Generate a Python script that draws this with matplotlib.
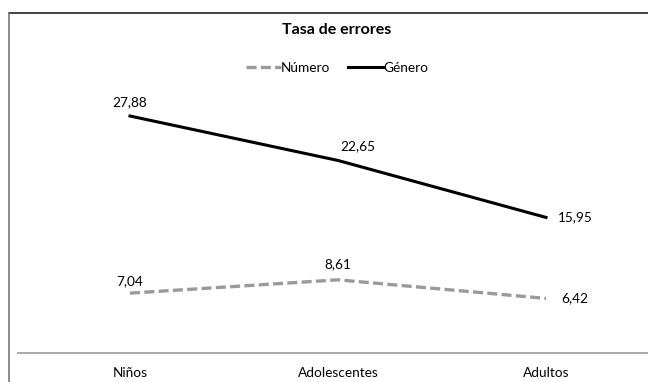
import matplotlib
matplotlib.use("Agg")
import matplotlib.pyplot as plt
from matplotlib.lines import Line2D

plt.rcParams['font.family'] = ['Lato', 'DejaVu Sans']

# data
categorias = ["Niños", "Adolescentes", "Adultos"]
numero = [7.04, 8.61, 6.42]
genero = [27.88, 22.65, 15.95]

# label offsets in points (dx, dy)
off_numero = [(0, 9), (0, 11), (21, 0)]
off_genero = [(0, 10), (14, 10), (21, 0)]

W, H = 648, 382
fig = plt.figure(figsize=(W / 100, H / 100), dpi=100)

# outer chart frame
fig.add_artist(Line2D([9 / W, 1.0], [1 - 12.5 / H, 1 - 12.5 / H], color="#222222", lw=1.2))
fig.add_artist(Line2D([9 / W, 9 / W], [1 - 12.5 / H, 0], color="#777777", lw=1.2))

# axes placed in pixels
left, right, top, bottom = 18, 650, 98, 353
ax = fig.add_axes([left / W, 1 - bottom / H, (right - left) / W, (bottom - top) / H])
x = list(range(len(categorias)))

ax.plot(x, numero, color="#9a9a9a", lw=2.4, dashes=(3.0, 1.3), label="Número")
ax.plot(x, genero, color="black", lw=2.2, label="Género")

for i in x:
    ax.annotate(f"{numero[i]:.2f}".replace(".", ","), (i, numero[i]), xytext=off_numero[i],
                textcoords="offset points", ha="center", va="center", fontsize=9.8)
    ax.annotate(f"{genero[i]:.2f}".replace(".", ","), (i, genero[i]), xytext=off_genero[i],
                textcoords="offset points", ha="center", va="center", fontsize=9.8)

ax.set_xlim(-(130 - left) / 208, (right - 130) / 208)
ax.set_ylim(0, 30)
ax.set_xticks(x)
ax.set_xticklabels(categorias, fontsize=9.8)
ax.tick_params(axis="x", length=0, pad=10)
ax.set_yticks([])
for s in ["top", "right", "left"]:
    ax.spines[s].set_visible(False)
ax.spines["bottom"].set_color("#aaaaaa")
ax.spines["bottom"].set_linewidth(1.4)

fig.text(337 / W, 1 - 30 / H, "Tasa de errores", ha="center", va="center",
         fontsize=11.5, fontweight="bold")
fig.legend(loc="center", bbox_to_anchor=(337 / W, 1 - 68 / H), ncol=2, frameon=False,
           fontsize=9.8, handlelength=2.6, handletextpad=0.0, columnspacing=1.3)

fig.savefig("out.png", dpi=100)
